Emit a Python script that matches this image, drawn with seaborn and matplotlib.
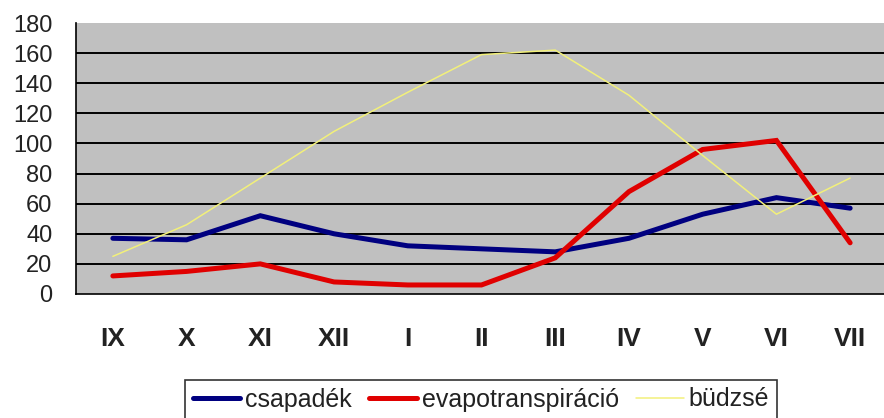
import pandas as pd
import matplotlib
matplotlib.use("Agg")
import matplotlib.pyplot as plt
import seaborn as sns

months = ["IX", "X", "XI", "XII", "I", "II", "III", "IV", "V", "VI", "VII"]
csapadek = [37, 36, 52, 40, 32, 30, 28, 37, 53, 64, 57]
evapotranspiracio = [12, 15, 20, 8, 6, 6, 24, 68, 96, 102, 34]
budzse = [25, 46, 77, 108, 134, 159, 162, 132, 92, 53, 77]

series_names = ["csapadék", "evapotranspiráció", "büdzsé"]
series_colors = ["#000080", "#E00000", "#F2F07A"]
series_widths = [3.6, 3.6, 1.1]


def build_frame():
    frames = []
    for name, values in zip(series_names, [csapadek, evapotranspiracio, budzse]):
        frames.append(pd.DataFrame({"x": range(len(months)), "value": values, "series": name}))
    return pd.concat(frames, ignore_index=True)


sns.set_style("white")
plt.rcParams["font.family"] = ["Liberation Sans", "DejaVu Sans"]

df = build_frame()

fig = plt.figure(figsize=(8.84, 4.18), dpi=100)
ax = fig.add_axes([76 / 884, 1 - 294 / 418, 811 / 884, 271 / 418])
ax.set_facecolor("#C0C0C0")

sns.lineplot(data=df, x="x", y="value", hue="series", hue_order=series_names,
             palette=series_colors, ax=ax, legend=False)
for line, lw in zip(ax.lines, series_widths):
    line.set_linewidth(lw)
    line.set_solid_joinstyle("miter")

ax.set_xlim(-0.5, len(months) - 0.5)
ax.set_ylim(0, 180)
ax.set_yticks(range(0, 181, 20))
ax.set_yticklabels([str(v) for v in range(0, 181, 20)])
ax.tick_params(axis="y", labelsize=17, length=7, width=1.2, direction="out", pad=10,
               labelcolor="#222222")

ax.set_xticks(range(len(months)))
ax.set_xticklabels(months, fontsize=19, fontweight="bold", color="#222222")
ax.set_xticks([i - 0.5 for i in range(len(months))], minor=True)
ax.tick_params(axis="x", which="major", length=0, pad=24)
ax.tick_params(axis="x", which="minor", length=7, width=1.2, direction="out")

for y in range(20, 180, 20):
    ax.axhline(y, color="black", linewidth=1.4, zorder=0.5)

for side in ["top", "right"]:
    ax.spines[side].set_visible(False)
for side in ["left", "bottom"]:
    ax.spines[side].set_color("black")
    ax.spines[side].set_linewidth(1.2)

ax.set_xlabel("")
ax.set_ylabel("")

handles = [plt.Line2D([], [], color=c, linewidth=w) for c, w in zip(series_colors, series_widths)]
leg = fig.legend(handles, series_names, loc="upper center", bbox_to_anchor=(481 / 884, 1 - 380 / 418),
                 ncol=3, frameon=True, fancybox=False, edgecolor="black", fontsize=18,
                 handlelength=1.9, handletextpad=0.2, columnspacing=0.7, borderpad=0.3,
                 borderaxespad=0)
leg.get_frame().set_linewidth(1.2)
for text in leg.get_texts():
    text.set_color("#222222")

fig.savefig("out.png", dpi=100)
